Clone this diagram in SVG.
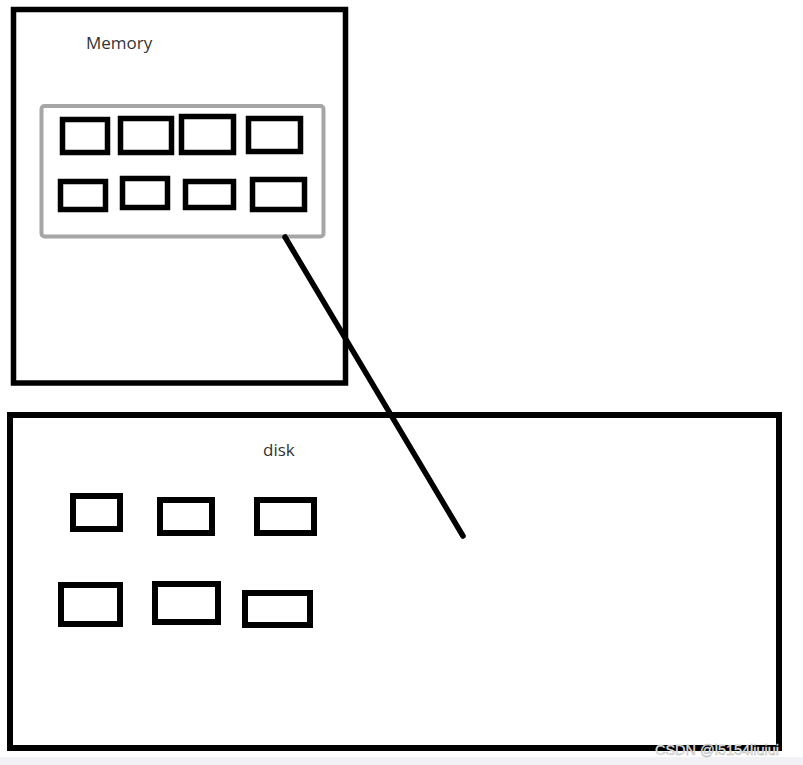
<svg xmlns="http://www.w3.org/2000/svg" width="803" height="765" viewBox="0 0 803 765">
  <style>
    .box { fill: none; stroke: #000; stroke-width: 5.5; }
    .frame { fill: none; stroke: #000; stroke-width: 5.5; }
    .label { font-family: "Open Sans", "Liberation Sans", sans-serif; font-size: 17px; fill: #333; }
    .wm { font-family: "Liberation Sans", sans-serif; font-size: 15px; fill: #fff; stroke: #b0b0b0; stroke-width: 0.5; }
  </style>
  <rect x="0" y="0" width="803" height="765" fill="#fff"/>
  <rect x="0" y="757" width="803" height="8" fill="#f1f1f6"/>

  <g id="memory">
    <rect class="frame" x="13.5" y="9.5" width="332" height="373.5"/>
    <text class="label" x="86" y="49">Memory</text>
  </g>

  <g id="buffer">
    <rect x="41.5" y="106" width="282" height="130.5" rx="3" fill="none" stroke="#a6a6a6" stroke-width="4"/>
    <rect class="box" x="62.5" y="119.5" width="45" height="33"/>
    <rect class="box" x="120.5" y="118.5" width="51" height="34"/>
    <rect class="box" x="181.5" y="116.5" width="52" height="36"/>
    <rect class="box" x="248.5" y="118.5" width="52" height="33"/>
    <rect class="box" x="60.5" y="181.5" width="45" height="28"/>
    <rect class="box" x="122.5" y="178.5" width="45" height="29"/>
    <rect class="box" x="185.5" y="181.5" width="48" height="26"/>
    <rect class="box" x="252.5" y="179.5" width="52" height="30"/>
  </g>

  <g id="disk">
    <rect class="frame" x="10" y="415" width="769" height="333" style="stroke-width:6"/>
    <text class="label" x="263" y="456">disk</text>
    <rect class="box" x="73" y="496" width="47" height="33" style="stroke-width:6"/>
    <rect class="box" x="160" y="500" width="52" height="33" style="stroke-width:6"/>
    <rect class="box" x="257" y="500" width="57" height="33" style="stroke-width:6"/>
    <rect class="box" x="61" y="585" width="59" height="39" style="stroke-width:6"/>
    <rect class="box" x="155" y="584" width="63" height="38" style="stroke-width:6"/>
    <rect class="box" x="245" y="593" width="65" height="32" style="stroke-width:6"/>
  </g>

  <g id="connectors">
    <line x1="285" y1="237" x2="463" y2="536" stroke="#000" stroke-width="5.5" stroke-linecap="round"/>
  </g>

  <text class="wm" x="655" y="755" textLength="124" lengthAdjust="spacingAndGlyphs">CSDN @l5154liuiui</text>
</svg>
